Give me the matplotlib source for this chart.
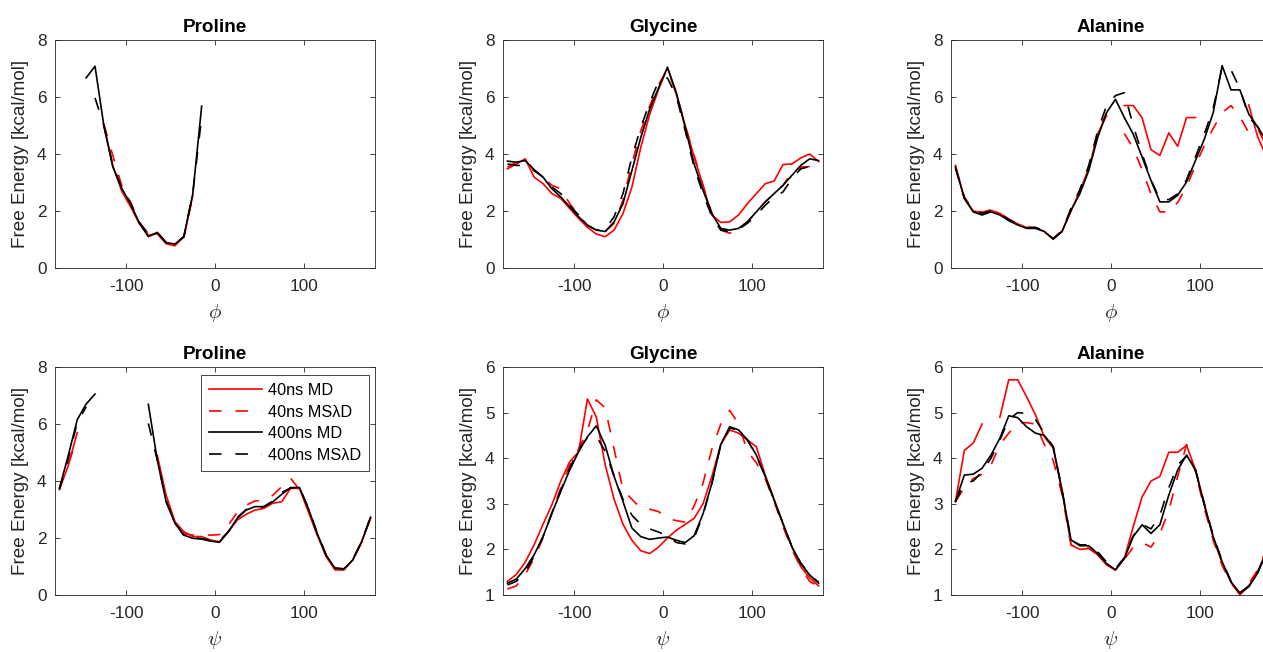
import numpy as np
import matplotlib
matplotlib.use('Agg')
import matplotlib.pyplot as plt

plt.rcParams['font.family'] = ['Liberation Sans', 'DejaVu Sans']
plt.rcParams['mathtext.fontset'] = 'cm'
plt.rcParams['lines.scale_dashes'] = False
plt.rcParams['axes.unicode_minus'] = False

N = np.nan

# bin centres (degrees)
angles = [-175, -165, -155, -145, -135, -125, -115, -105, -95, -85, -75, -65,
          -55, -45, -35, -25, -15, -5, 5, 15, 25, 35, 45, 55,
          65, 75, 85, 95, 105, 115, 125, 135, 145, 155, 165, 175]

labels = ['40ns MD', '40ns MS\u03bbD', '400ns MD', '400ns MS\u03bbD']

# ---- phi ----
pro_phi_md40 = [N, N, N, N, N, 5.0, 3.6, 2.7, 2.15, 1.55, 1.15, 1.2,
                0.85, 0.78, 1.1, 2.55, N, N, N, N, N, N, N, N,
                N, N, N, N, N, N, N, N, N, N, N, N]
pro_phi_ms40 = [N, N, N, N, N, 5.05, 3.95, 2.9, 2.3, 1.6, 1.2, 1.22,
                0.87, 0.8, 1.1, 2.5, N, N, N, N, N, N, N, N,
                N, N, N, N, N, N, N, N, N, N, N, N]
pro_phi_md400 = [N, N, N, 6.67, 7.08, 4.99, 3.55, 2.8, 2.25, 1.57, 1.1, 1.25,
                 0.89, 0.84, 1.1, 2.6, 5.68, N, N, N, N, N, N, N,
                 N, N, N, N, N, N, N, N, N, N, N, N]
pro_phi_ms400 = [N, N, N, N, 5.97, 5.0, 3.6, 2.82, 2.28, 1.6, 1.18, 1.25,
                 0.9, 0.85, 1.1, 2.62, 5.3, N, N, N, N, N, N, N,
                 N, N, N, N, N, N, N, N, N, N, N, N]

gly_phi_md40 = [3.48, 3.65, 3.83, 3.19, 2.96, 2.61, 2.44, 2.09, 1.74, 1.43, 1.19, 1.1,
                1.33, 1.91, 2.84, 4.23, 5.39, 6.26, 7.04, 6.09, 5.0, 3.9, 2.9, 1.85,
                1.6, 1.62, 1.86, 2.26, 2.61, 2.96, 3.05, 3.63, 3.65, 3.86, 4.0, 3.74]
gly_phi_ms40 = [3.54, 3.71, 3.83, 3.42, 3.19, 2.9, 2.78, 2.26, 1.86, 1.5, 1.33, 1.28,
                1.57, 2.38, 3.65, 4.81, 5.68, 6.44, 6.96, 6.15, 5.0, 3.95, 2.9, 1.91,
                1.33, 1.22, 1.39, 1.62, 1.97, 2.32, 2.61, 2.9, 3.36, 3.54, 3.56, 3.65]
gly_phi_md400 = [3.75, 3.71, 3.77, 3.45, 3.19, 2.78, 2.49, 2.15, 1.8, 1.5, 1.33, 1.28,
                 1.62, 2.26, 3.42, 4.58, 5.57, 6.32, 7.04, 6.15, 4.93, 3.65, 2.73, 1.91,
                 1.39, 1.33, 1.39, 1.62, 1.97, 2.32, 2.61, 2.9, 3.25, 3.6, 3.83, 3.77]
gly_phi_ms400 = [3.65, 3.6, 3.6, 3.42, 3.19, 2.84, 2.61, 2.2, 1.86, 1.5, 1.33, 1.36,
                 1.8, 2.61, 3.89, 4.93, 5.8, 6.55, 6.67, 6.03, 4.81, 3.54, 2.61, 1.8,
                 1.33, 1.28, 1.36, 1.57, 1.86, 2.2, 2.49, 2.67, 3.13, 3.48, 3.56, 3.65]

ala_phi_md40 = [3.6, 2.45, 2.0, 1.95, 2.02, 1.92, 1.7, 1.55, 1.42, 1.42, 1.28, 1.02,
                1.3, 2.0, 2.7, 3.5, 4.7, 5.35, N, 5.7, 5.7, 5.27, 4.15, 3.95,
                4.74, 4.27, 5.28, 5.28, N, N, N, N, N, 5.72, 4.6, 3.9]
ala_phi_ms40 = [3.55, 2.5, 2.02, 1.95, 2.05, 1.92, 1.72, 1.55, 1.42, 1.42, 1.3, 1.03,
                1.32, 2.0, 2.75, 3.55, 4.75, 5.45, N, 4.72, 4.2, 3.45, 2.6, 1.97,
                1.97, 2.3, 2.85, 3.6, 4.3, 4.9, 5.45, 5.7, 5.3, 4.75, 4.9, 4.25]
ala_phi_md400 = [3.54, 2.44, 1.97, 1.86, 1.97, 1.86, 1.66, 1.51, 1.39, 1.39, 1.28, 1.01,
                 1.28, 2.03, 2.61, 3.42, 4.58, 5.45, 5.92, 5.28, 4.7, 3.89, 3.07, 2.32,
                 2.32, 2.55, 3.02, 3.77, 4.52, 5.45, 7.1, 6.25, 6.25, 5.4, 4.95, 4.45]
ala_phi_ms400 = [3.5, 2.45, 2.0, 1.92, 2.0, 1.88, 1.7, 1.55, 1.42, 1.42, 1.3, 1.03,
                 1.3, 2.1, 2.75, 3.6, 4.8, 5.7, 6.05, 6.15, 5.0, 4.0, 3.1, 2.4,
                 2.4, 2.6, 3.1, 3.9, 4.7, 5.6, 7.05, 6.95, 6.3, 5.3, 4.95, 4.5]

# ---- psi ----
pro_psi_md40 = [3.7, 4.55, 5.7, N, N, N, N, N, N, N, N, 4.91,
                3.5, 2.57, 2.22, 2.05, 2.05, 1.93, 1.87, 2.22, 2.63, 2.83, 2.98, 3.04,
                3.22, 3.27, 3.74, 3.74, 2.92, 2.1, 1.35, 0.88, 0.88, 1.23, 1.87, 2.69]
pro_psi_ms40 = [3.75, 4.6, 5.5, N, N, N, N, N, N, N, N, 4.8,
                3.4, 2.5, 2.15, 2.1, 2.13, 2.1, 2.12, 2.45, 2.9, 3.15, 3.3, 3.32,
                3.5, 3.8, 4.1, 3.7, 3.0, 2.12, 1.38, 0.9, 0.9, 1.22, 1.85, 2.7]
pro_psi_md400 = [3.75, 4.9, 6.15, 6.7, 7.05, N, N, N, N, N, 6.69, 4.75,
                 3.27, 2.51, 2.1, 1.99, 1.96, 1.89, 1.85, 2.22, 2.69, 2.98, 3.1, 3.1,
                 3.27, 3.53, 3.77, 3.77, 3.04, 2.16, 1.4, 0.94, 0.91, 1.23, 1.87, 2.73]
pro_psi_ms400 = [3.7, 4.8, 6.05, 6.6, N, N, N, N, N, N, 6.02, 4.75,
                 3.3, 2.55, 2.08, 2.02, 1.98, 1.92, 1.9, 2.22, 2.72, 3.0, 3.05, 3.1,
                 3.3, 3.6, 3.75, 3.78, 3.05, 2.18, 1.4, 0.95, 0.92, 1.25, 1.88, 2.74]

gly_psi_md40 = [1.3, 1.45, 1.72, 2.1, 2.55, 2.98, 3.5, 3.92, 4.14, 5.3, 4.9, 3.85,
                3.1, 2.55, 2.2, 1.97, 1.91, 2.05, 2.25, 2.42, 2.55, 2.68, 3.0, 3.6,
                4.3, 4.62, 4.55, 4.4, 4.25, 3.63, 3.1, 2.55, 2.05, 1.62, 1.38, 1.2]
gly_psi_ms40 = [1.13, 1.2, 1.45, 1.8, 2.25, 2.8, 3.35, 3.85, 4.2, 4.6, 5.28, 5.1,
                4.2, 3.3, 3.1, 2.9, 2.88, 2.83, 2.68, 2.63, 2.6, 2.95, 3.45, 4.2,
                4.75, 5.05, 4.75, 4.15, 3.9, 3.55, 3.05, 2.5, 2.0, 1.6, 1.3, 1.18]
gly_psi_md400 = [1.26, 1.35, 1.58, 1.88, 2.28, 2.79, 3.27, 3.74, 4.14, 4.47, 4.71, 4.28,
                 3.6, 3.05, 2.47, 2.28, 2.22, 2.25, 2.27, 2.2, 2.15, 2.3, 2.78, 3.45,
                 4.3, 4.69, 4.62, 4.4, 4.07, 3.6, 3.08, 2.57, 2.06, 1.69, 1.44, 1.26]
gly_psi_ms400 = [1.22, 1.3, 1.5, 1.85, 2.28, 2.8, 3.3, 3.78, 4.2, 4.45, 4.48, 4.15,
                 3.6, 3.1, 2.75, 2.55, 2.45, 2.38, 2.3, 2.15, 2.12, 2.25, 2.75, 3.45,
                 4.3, 4.66, 4.62, 4.4, 4.05, 3.6, 3.08, 2.57, 2.06, 1.7, 1.45, 1.28]

ala_psi_md40 = [3.05, 4.17, 4.33, 4.75, N, 4.9, 5.72, 5.72, 5.35, 4.95, 4.47, 4.22,
                3.3, 2.1, 2.0, 2.02, 1.88, 1.66, 1.55, 1.8, 2.5, 3.15, 3.5, 3.6,
                4.13, 4.13, 4.28, 3.75, 3.0, 2.25, 1.7, 1.28, 1.0, 1.2, 1.5, 1.98]
ala_psi_ms40 = [3.05, 3.35, 3.55, 3.65, 3.85, 4.3, 4.55, 4.78, 4.78, 4.75, 4.3, 3.95,
                3.2, 2.1, 2.0, 2.03, 1.9, 1.68, 1.55, 1.78, 2.05, 2.15, 2.05, 2.35,
                2.85, 3.6, 4.3, 3.7, 2.9, 2.2, 1.65, 1.25, 1.05, 1.25, 1.55, 2.0]
ala_psi_md400 = [3.05, 3.63, 3.65, 3.78, 4.07, 4.44, 4.93, 4.89, 4.69, 4.55, 4.5, 4.25,
                 3.27, 2.21, 2.08, 2.08, 1.91, 1.69, 1.55, 1.8, 2.28, 2.54, 2.35, 2.54,
                 3.19, 3.74, 4.07, 3.74, 2.97, 2.28, 1.73, 1.29, 1.04, 1.18, 1.48, 1.95]
ala_psi_ms400 = [3.05, 3.45, 3.5, 3.7, 4.0, 4.4, 4.85, 5.0, 4.98, 4.85, 4.55, 4.25,
                 3.3, 2.2, 2.1, 2.1, 1.95, 1.72, 1.58, 1.82, 2.3, 2.55, 2.45, 2.75,
                 3.35, 3.85, 4.05, 3.75, 3.0, 2.3, 1.75, 1.3, 1.05, 1.2, 1.5, 1.95]

panels = [
    (0, 0, 'Proline', r'$\phi$', (0, 8), [0, 2, 4, 6, 8],
     [pro_phi_md40, pro_phi_ms40, pro_phi_md400, pro_phi_ms400]),
    (0, 1, 'Glycine', r'$\phi$', (0, 8), [0, 2, 4, 6, 8],
     [gly_phi_md40, gly_phi_ms40, gly_phi_md400, gly_phi_ms400]),
    (0, 2, 'Alanine', r'$\phi$', (0, 8), [0, 2, 4, 6, 8],
     [ala_phi_md40, ala_phi_ms40, ala_phi_md400, ala_phi_ms400]),
    (1, 0, 'Proline', r'$\psi$', (0, 8), [0, 2, 4, 6, 8],
     [pro_psi_md40, pro_psi_ms40, pro_psi_md400, pro_psi_ms400]),
    (1, 1, 'Glycine', r'$\psi$', (1, 6), [1, 2, 3, 4, 5, 6],
     [gly_psi_md40, gly_psi_ms40, gly_psi_md400, gly_psi_ms400]),
    (1, 2, 'Alanine', r'$\psi$', (1, 6), [1, 2, 3, 4, 5, 6],
     [ala_psi_md40, ala_psi_ms40, ala_psi_md400, ala_psi_ms400]),
]

styles = [('#ff0000', '-'), ('#ff0000', '--'), ('black', '-'), ('black', '--')]
axcol = '#262626'

W, H = 1263, 652
fig = plt.figure(figsize=(W / 100, H / 100), dpi=100)

lefts = [55, 503, 951]
tops = [40, 367]
aw, ah = 320, 228

for row, col, title, xl, ylim, yt, series in panels:
    ax = fig.add_axes([lefts[col] / W, 1 - (tops[row] + ah) / H, aw / W, ah / H])
    for vals, (c, ls), lab in zip(series, styles, labels):
        if ls == '--':
            ax.plot(angles, vals, color=c, lw=1.2, dashes=(9, 10), label=lab)
        else:
            ax.plot(angles, vals, color=c, lw=1.2, label=lab)
    ax.set_xlim(-180, 180)
    ax.set_ylim(*ylim)
    ax.set_xticks([-100, 0, 100])
    ax.set_yticks(yt)
    ax.tick_params(direction='in', top=True, right=True, length=3.5, width=0.6,
                   colors=axcol, labelsize=12.4)
    ax.tick_params(axis='x', pad=8)
    ax.tick_params(axis='y', pad=6)
    for sp in ax.spines.values():
        sp.set_color(axcol)
        sp.set_linewidth(0.6)
    ax.set_title(title, fontsize=13.6, fontweight='bold', pad=5.5)
    ax.set_xlabel(xl, fontsize=15, color=axcol, labelpad=6)
    ax.set_ylabel('Free Energy [kcal/mol]', fontsize=13.6, color=axcol, labelpad=6)
    if row == 1 and col == 0:
        leg = ax.legend(loc='upper right', bbox_to_anchor=(1 - 6 / aw, 1 - 8 / ah),
                        borderaxespad=0, fontsize=11.7, handlelength=3.25,
                        handletextpad=0.35, labelspacing=0.4, borderpad=0.5,
                        fancybox=False, framealpha=1, edgecolor=axcol)
        leg.get_frame().set_linewidth(0.6)

fig.savefig('out.png', dpi=100)
